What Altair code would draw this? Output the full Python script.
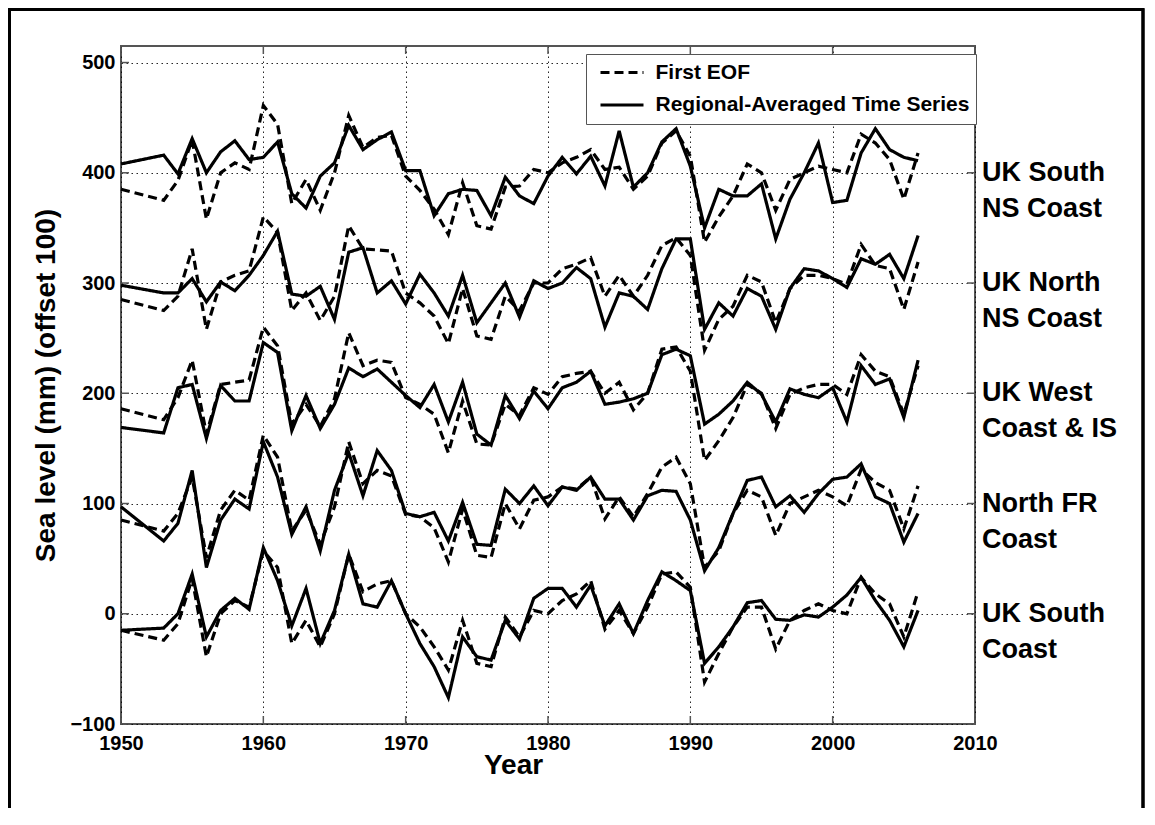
import altair as alt
import pandas as pd

years = [1950] + list(range(1953, 2007))

regions = ["UK South NS Coast", "UK North NS Coast", "UK West Coast & IS",
           "North FR Coast", "UK South Coast"]
region_labels = ["UK South\nNS Coast", "UK North\nNS Coast", "UK West\nCoast & IS",
                 "North FR\nCoast", "UK South\nCoast"]
label_levels = [400, 300, 200, 100, 0]

series_names = ["First EOF", "Regional-Averaged Time Series"]

# --- UK South NS Coast (offset 400) ---
g1_eof = [385, 375, 393, 430, 358, 400, 409, 403, 461, 444, 372, 394, 366, 400, 452,
          423, 432, 434, 397, 384, 367, 344, 391, 352, 349, 387, 388, 403, 400, 409,
          414, 421, 403, 405, 385, 397, 427, 438, 415, 337, 360, 379, 408, 400, 366,
          394, 400, 406, 403, 400, 435, 427, 412, 376, 418]
g1_reg = [408, 416, 399, 431, 400, 419, 429, 412, 414, 428, 381, 368, 397, 409, 443,
          421, 430, 437, 402, 402, 361, 381, 385, 384, 361, 396, 379, 372, 397, 414,
          399, 415, 388, 438, 387, 400, 428, 440, 406, 350, 385, 379, 379, 390, 340,
          376, 400, 427, 373, 375, 418, 440, 421, 414, 411]

# --- UK North NS Coast (offset 300) ---
g2_eof = [285, 275, 288, 331, 258, 301, 307, 311, 360, 346, 275, 291, 266, 288, 352,
          331, 330, 329, 291, 282, 270, 245, 295, 252, 249, 288, 275, 300, 300, 313,
          317, 323, 288, 307, 288, 307, 334, 341, 325, 239, 267, 279, 307, 301, 264,
          295, 307, 307, 304, 299, 335, 316, 313, 276, 319]
g2_reg = [298, 291, 291, 304, 283, 301, 293, 307, 325, 347, 290, 288, 297, 267, 328,
          332, 291, 302, 281, 308, 291, 270, 307, 264, 282, 300, 269, 302, 295, 300,
          314, 304, 260, 291, 288, 276, 313, 340, 340, 258, 282, 270, 295, 288, 258,
          295, 313, 311, 304, 296, 322, 317, 326, 304, 343]

# --- UK West Coast & IS (offset 200) ---
g3_eof = [186, 176, 196, 230, 163, 208, 210, 212, 260, 243, 172, 190, 170, 195, 255,
          225, 230, 228, 196, 190, 181, 146, 193, 154, 153, 190, 180, 205, 199, 215,
          218, 220, 200, 210, 185, 200, 240, 242, 220, 139, 157, 178, 208, 200, 168,
          199, 205, 208, 208, 199, 235, 220, 215, 181, 225]
g3_reg = [169, 164, 205, 208, 159, 207, 193, 193, 246, 237, 166, 198, 168, 190, 223,
          215, 222, 210, 198, 187, 208, 174, 210, 163, 153, 198, 177, 202, 186, 205,
          210, 220, 190, 192, 195, 200, 235, 240, 234, 172, 181, 193, 210, 199, 174,
          204, 199, 196, 205, 174, 225, 208, 213, 178, 230]

# --- North FR Coast (offset 100) ---
g4_eof = [85, 75, 91, 124, 51, 94, 112, 103, 162, 142, 75, 94, 63, 97, 156,
          118, 130, 125, 90, 88, 78, 47, 95, 53, 51, 100, 77, 103, 106, 115,
          113, 124, 86, 106, 88, 109, 133, 142, 118, 42, 57, 91, 112, 106, 71,
          100, 106, 112, 106, 98, 131, 119, 112, 77, 116]
g4_reg = [97, 66, 82, 130, 42, 85, 104, 95, 156, 124, 72, 97, 57, 112, 146,
          107, 148, 130, 91, 88, 92, 66, 101, 63, 62, 113, 100, 116, 98, 115,
          112, 124, 104, 104, 85, 107, 112, 111, 85, 39, 60, 91, 121, 124, 97,
          107, 92, 109, 122, 124, 136, 106, 100, 65, 91]

# --- UK South Coast (offset 0) ---
g5_eof = [-15, -24, -9, 32, -39, 0, 12, 6, 57, 42, -27, -6, -30, 0, 54,
          20, 27, 30, 0, -12, -30, -51, -6, -45, -48, -3, -21, 3, 0, 12,
          18, 30, -14, 3, -18, 6, 36, 38, 24, -62, -36, -12, 6, 6, -32,
          -6, 3, 9, 3, 0, 33, 18, 9, -21, 20]
g5_reg = [-15, -13, 0, 36, -21, 3, 14, 4, 60, 30, -11, 23, -27, 3, 54,
          9, 6, 30, 0, -27, -48, -76, -21, -39, -42, -6, -23, 14, 23, 23,
          6, 26, -11, 9, -18, 12, 38, 30, 21, -45, -30, -12, 10, 12, -5,
          -6, -1, -3, 6, 17, 33, 12, -6, -30, 3]

eof_all = [g1_eof, g2_eof, g3_eof, g4_eof, g5_eof]
reg_all = [g1_reg, g2_reg, g3_reg, g4_reg, g5_reg]

x_ticks = [1950, 1960, 1970, 1980, 1990, 2000, 2010]
y_ticks = [-100, 0, 100, 200, 300, 400, 500]

rows = []
for reg, eof, rav in zip(regions, eof_all, reg_all):
    for yr, v in zip(years, eof):
        rows.append({"year": yr, "value": v, "region": reg, "series": series_names[0]})
    for yr, v in zip(years, rav):
        rows.append({"year": yr, "value": v, "region": reg, "series": series_names[1]})
df = pd.DataFrame(rows)

labels_df = pd.DataFrame({"label": region_labels, "level": label_levels})
xt_df = pd.DataFrame({"t": x_ticks})
yt_df = pd.DataFrame({"t": y_ticks})

W, H = 854, 678
FONT = "Liberation Sans"

xscale = alt.Scale(domain=[1950, 2010], nice=False, zero=False)
yscale = alt.Scale(domain=[-100, 515], nice=False, zero=False)

lines = alt.Chart(df).mark_line(color="black", strokeWidth=3.2).encode(
    x=alt.X("year:Q", scale=xscale,
            axis=alt.Axis(values=x_ticks, title="Year", format="d", tickSize=0,
                          labelPadding=9, labelFlush=False, titleX=392, titleY=27,
                          titleBaseline="top", grid=True, domain=False)),
    y=alt.Y("value:Q", scale=yscale,
            axis=alt.Axis(values=y_ticks, title="Sea level (mm) (offset 100)", tickSize=0,
                          labelPadding=6, labelFlush=False, titlePadding=9,
                          grid=True, domain=False)),
    strokeDash=alt.StrokeDash(
        "series:N",
        scale=alt.Scale(domain=series_names, range=[[9, 5], [1, 0]]),
        legend=alt.Legend(title=None, orient="none", legendX=465, legendY=8,
                          direction="vertical", strokeColor="#555555", fillColor="white",
                          padding=6.5, labelFontSize=21, labelFont=FONT,
                          labelFontWeight="bold", labelColor="black", labelLimit=0,
                          symbolType="stroke", symbolSize=1849, symbolStrokeWidth=3,
                          symbolStrokeColor="black", symbolOffset=6.5,
                          clipHeight=24, rowPadding=8.5, labelOffset=10.5),
    ),
    detail="region:N",
)

labels = alt.Chart(labels_df).mark_text(
    align="left", baseline="middle", lineBreak="\n", font=FONT, fontSize=27,
    fontWeight="bold", lineHeight=36, dx=7, color="black"
).encode(x=alt.datum(2010, scale=xscale), y=alt.Y("level:Q", scale=yscale), text="label:N")

tick_style = dict(color="#555555", strokeWidth=1.5)
xt_bottom = alt.Chart(xt_df).mark_rule(**tick_style).encode(
    x=alt.X("t:Q", scale=xscale), y=alt.value(H), y2=alt.value(H - 8))
xt_top = alt.Chart(xt_df).mark_rule(**tick_style).encode(
    x=alt.X("t:Q", scale=xscale), y=alt.value(0), y2=alt.value(8))
yt_left = alt.Chart(yt_df).mark_rule(**tick_style).encode(
    y=alt.Y("t:Q", scale=yscale), x=alt.value(0), x2=alt.value(8))
yt_right = alt.Chart(yt_df).mark_rule(**tick_style).encode(
    y=alt.Y("t:Q", scale=yscale), x=alt.value(W), x2=alt.value(W - 8))

frame = alt.Chart(labels_df).mark_rect(filled=False, stroke="black", strokeWidth=2.5).encode(
    x=alt.value(-111.5), x2=alt.value(W + 168), y=alt.value(-36.5), y2=alt.value(H + 120))

chart = alt.layer(frame, lines, xt_bottom, xt_top, yt_left, yt_right, labels).properties(
    width=W, height=H,
    autosize=alt.AutoSizeParams(type="none"),
    padding={"left": 113, "top": 38, "right": 170, "bottom": 84},
).configure_view(
    stroke="#555555", strokeWidth=2
).configure_axis(
    labelFont=FONT, labelFontSize=20, labelFontWeight="bold", labelColor="black",
    titleFont=FONT, titleFontSize=28, titleFontWeight="bold", titleColor="black",
    gridColor="black", gridDash=[1.5, 3.5], gridWidth=1, gridOpacity=0.85,
).configure_legend(
    symbolStrokeColor="black"
)

chart.save("out.html", embed_options={"renderer": "svg", "actions": False})
